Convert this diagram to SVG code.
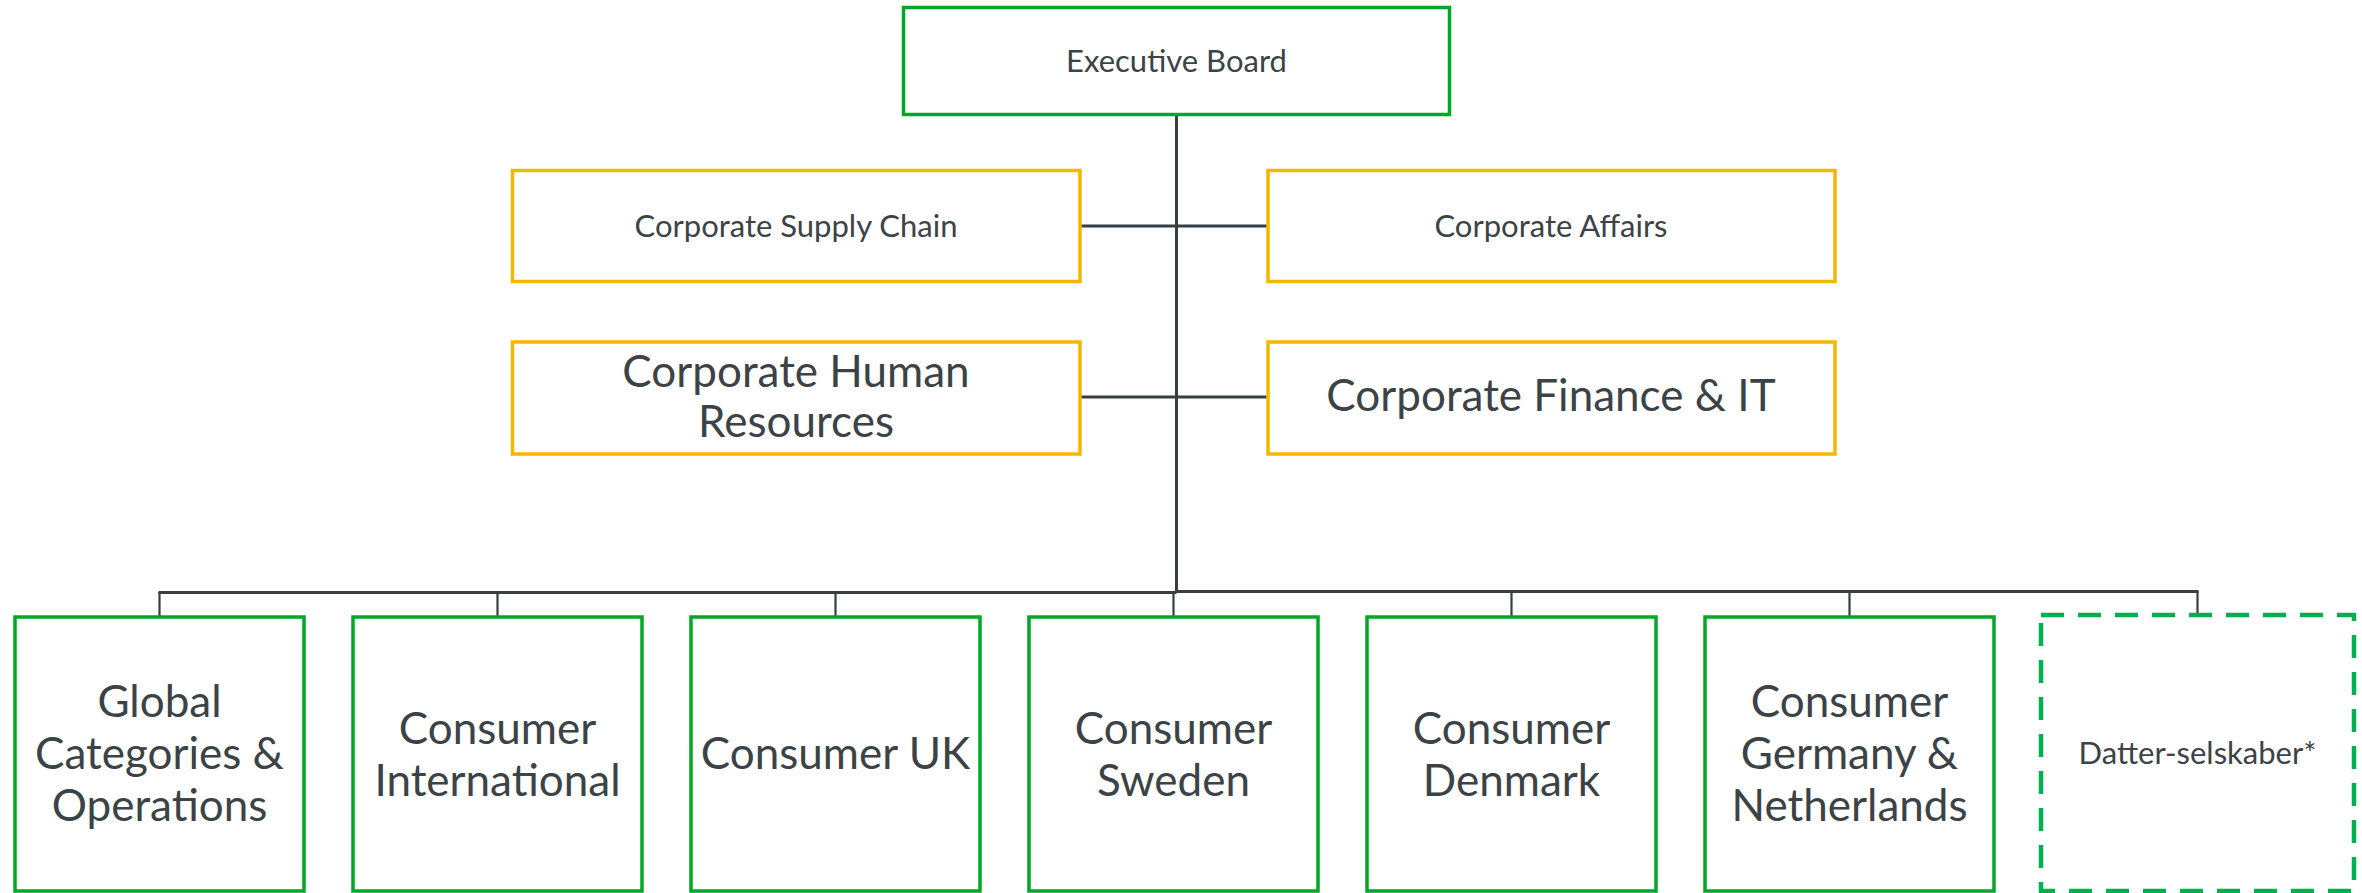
<svg xmlns="http://www.w3.org/2000/svg" width="2362" height="893" viewBox="0 0 2362 893">
<style>
.bg{fill:#ffffff}
.g{fill:#ffffff;stroke:#00a826;stroke-width:3.5}
.y{fill:#ffffff;stroke:#f2b700;stroke-width:3.5}
.d{fill:#ffffff;stroke:#00b050;stroke-width:4.5;stroke-dasharray:23 14}
.c{fill:none;stroke:#373f43;stroke-width:3}
.c2{fill:none;stroke:#373f43;stroke-width:2.2}
text{font-family:Lato,"Open Sans","Liberation Sans",sans-serif;fill:#3b4347;text-anchor:middle}
.s{font-size:31px}
.l{font-size:44px}
</style>
<rect class="bg" x="0" y="0" width="2362" height="893"/>
<g id="connectors">
<line class="c" x1="1176.5" y1="115" x2="1176.5" y2="593"/>
<line class="c" x1="1080" y1="226" x2="1268" y2="226"/>
<line class="c" x1="1080" y1="397" x2="1268" y2="397"/>
<line class="c" x1="158.5" y1="592.5" x2="1176.5" y2="592.5"/>
<line class="c" x1="1176.5" y1="591.5" x2="2198.5" y2="591.5"/>
<line class="c2" x1="159.5" y1="592" x2="159.5" y2="617"/>
<line class="c2" x1="497.5" y1="592" x2="497.5" y2="617"/>
<line class="c2" x1="835.5" y1="592" x2="835.5" y2="617"/>
<line class="c2" x1="1173.5" y1="592" x2="1173.5" y2="617"/>
<line class="c2" x1="1511.5" y1="592" x2="1511.5" y2="617"/>
<line class="c2" x1="1849.5" y1="591" x2="1849.5" y2="617"/>
<line class="c2" x1="2197.5" y1="591" x2="2197.5" y2="614"/>
</g>
<g id="executive-board">
<rect class="g" x="903.5" y="7.5" width="546" height="107"/>
<text class="s" x="1176.5" y="71.5">Executive Board</text>
</g>
<g id="corporate-supply-chain">
<rect class="y" x="512.5" y="170.5" width="567.5" height="111"/>
<text class="s" x="796" y="237">Corporate Supply Chain</text>
</g>
<g id="corporate-affairs">
<rect class="y" x="1268" y="170.5" width="567" height="111"/>
<text class="s" x="1551" y="237">Corporate Affairs</text>
</g>
<g id="corporate-human-resources">
<rect class="y" x="512.5" y="342" width="567.5" height="112"/>
<text class="l" x="796" y="387">Corporate Human</text>
<text class="l" x="796" y="437">Resources</text>
</g>
<g id="corporate-finance-it">
<rect class="y" x="1268" y="342" width="567" height="112"/>
<text class="l" x="1551" y="411">Corporate Finance &amp; IT</text>
</g>
<g id="global-categories">
<rect class="g" x="15" y="617" width="289" height="274"/>
<text class="l" x="159.5" y="717">Global</text>
<text class="l" x="159.5" y="769">Categories &amp;</text>
<text class="l" x="159.5" y="821">Operations</text>
</g>
<g id="consumer-international">
<rect class="g" x="353" y="617" width="289" height="274"/>
<text class="l" x="497.5" y="744">Consumer</text>
<text class="l" x="497.5" y="796">International</text>
</g>
<g id="consumer-uk">
<rect class="g" x="691" y="617" width="289" height="274"/>
<text class="l" x="835.5" y="769">Consumer UK</text>
</g>
<g id="consumer-sweden">
<rect class="g" x="1029" y="617" width="289" height="274"/>
<text class="l" x="1173.5" y="744">Consumer</text>
<text class="l" x="1173.5" y="796">Sweden</text>
</g>
<g id="consumer-denmark">
<rect class="g" x="1367" y="617" width="289" height="274"/>
<text class="l" x="1511.5" y="744">Consumer</text>
<text class="l" x="1511.5" y="796">Denmark</text>
</g>
<g id="consumer-germany-netherlands">
<rect class="g" x="1705" y="617" width="289" height="274"/>
<text class="l" x="1849.5" y="717">Consumer</text>
<text class="l" x="1849.5" y="769">Germany &amp;</text>
<text class="l" x="1849.5" y="821">Netherlands</text>
</g>
<g id="datter-selskaber">
<rect class="d" x="2041" y="615" width="313" height="276"/>
<text class="s" x="2197.5" y="764">Datter-selskaber*</text>
</g>
</svg>
